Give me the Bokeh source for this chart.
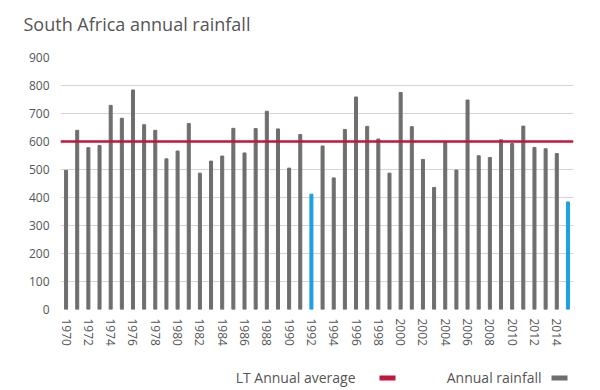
from bokeh.plotting import figure
from bokeh.layouts import column
from bokeh.models import Range1d, FixedTicker, Span, ColumnDataSource, Label, BoxAnnotation
from bokeh.embed import file_html
from bokeh.resources import INLINE

years = list(range(1970, 2016))
rainfall = [497, 640, 578, 586, 729, 683, 784, 660, 640, 538,
            566, 664, 487, 530, 548, 647, 559, 646, 708, 645,
            505, 625, 412, 584, 470, 643, 759, 654, 609, 487,
            775, 653, 536, 436, 597, 498, 748, 549, 543, 606,
            593, 655, 579, 574, 557, 384]
highlight_years = [1992, 2015]
lt_average = 600
tick_years = [1970, 1972, 1974, 1976, 1978, 1980, 1982, 1984, 1986, 1988, 1990,
              1992, 1994, 1996, 1998, 2000, 2002, 2004, 2006, 2008, 2010, 2012, 2014]
y_ticks = [0, 100, 200, 300, 400, 500, 600, 700, 800, 900]
title_text = "South Africa annual rainfall"
legend_labels = ["LT Annual average", "Annual rainfall"]

GREY = "#6e6e6e"
BLUE = "#1ba1e2"
RED = "#c4163c"
TXT = "#555555"
FONT = "Open Sans"
W = 583


def strip(height, **kw):
    f = figure(width=W, height=height, output_backend="svg", toolbar_location=None,
               x_range=Range1d(0, 1), y_range=Range1d(0, 1),
               x_axis_location=None, y_axis_location=None,
               min_border_top=0, min_border_bottom=0,
               min_border_left=60, min_border_right=10, **kw)
    f.outline_line_color = None
    f.grid.visible = False
    return f


# --- title strip ---
pt = strip(49, title=title_text)
pt.title.text_font = FONT
pt.title.text_font_style = "normal"
pt.title.text_font_size = "18px"
pt.title.text_color = TXT
pt.title.offset = -37
pt.title.standoff = 18

# --- main chart ---
colors = [BLUE if y in highlight_years else GREY for y in years]
src = ColumnDataSource(dict(year=years, rain=rainfall, color=colors))

p = figure(width=W, frame_width=513, frame_height=252, output_backend="svg", toolbar_location=None,
           x_range=Range1d(1969.5, 2015.5), y_range=Range1d(0, 900),
           min_border_left=60, min_border_right=10, min_border_top=8, min_border_bottom=45)
p.outline_line_color = None

p.vbar(x="year", top="rain", width=0.27, color="color", source=src)
p.add_layout(Span(location=lt_average, dimension="width", line_color=RED, line_width=2.5))

p.xgrid.grid_line_color = None
p.ygrid.grid_line_color = "#d4d4d4"
p.ygrid.grid_line_width = 1.2

p.yaxis.ticker = FixedTicker(ticks=y_ticks)
p.xaxis.ticker = FixedTicker(ticks=tick_years)
p.xaxis.major_label_orientation = "vertical"
for ax in (p.xaxis, p.yaxis):
    ax.axis_line_color = None
    ax.major_tick_line_color = None
    ax.minor_tick_line_color = None
    ax.major_tick_out = 0
    ax.major_tick_in = 0
    ax.minor_tick_out = 0
    ax.minor_tick_in = 0
    ax.major_label_text_font = FONT
    ax.major_label_text_font_size = "12px"
    ax.major_label_text_color = TXT
p.yaxis.major_label_standoff = 11
p.xaxis.major_label_standoff = 9

# --- legend strip: text first, swatch to its right (as in the reference) ---
pl = strip(34)
for label_text, right_edge, gap, sw_color in ((legend_labels[0], 295, 24, RED),
                                              (legend_labels[1], 481, 10, GREY)):
    pl.add_layout(Label(x=right_edge, y=11, x_units="screen", y_units="screen", text=label_text,
                        text_align="right", text_baseline="middle", text_font=FONT,
                        text_font_size="14px", text_color=TXT))
    pl.add_layout(BoxAnnotation(left=right_edge + gap, right=right_edge + gap + 16, bottom=8, top=13,
                                left_units="screen", right_units="screen",
                                bottom_units="screen", top_units="screen",
                                fill_color=sw_color, fill_alpha=1, line_color=None))

layout = column(pt, p, pl, spacing=0)
open("out.html", "w").write(file_html(layout, INLINE))
